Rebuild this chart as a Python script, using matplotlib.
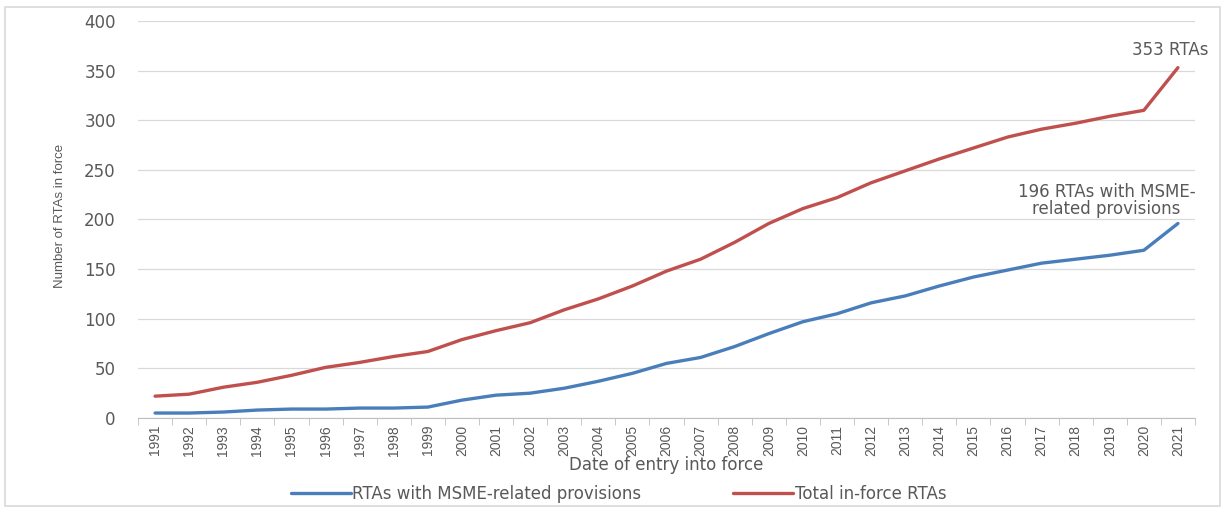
import matplotlib.pyplot as plt
from matplotlib.patches import Rectangle

years = [str(y) for y in range(1991, 2022)]
msme_rtas = [5, 5, 6, 8, 9, 9, 10, 10, 11, 18, 23, 25, 30, 37, 45, 55, 61, 72, 85, 97,
             105, 116, 123, 133, 142, 149, 156, 160, 164, 169, 196]
total_rtas = [22, 24, 31, 36, 43, 51, 56, 62, 67, 79, 88, 96, 109, 120, 133, 148, 160, 177, 196, 211,
              222, 237, 249, 261, 272, 283, 291, 297, 304, 310, 353]
y_ticks = [0, 50, 100, 150, 200, 250, 300, 350, 400]

grey = '#595959'
narrow = ['Liberation Sans', 'DejaVu Sans']
wide = ['DejaVu Sans']

fig = plt.figure(figsize=(12.25, 5.12), dpi=100)
fig.patches.append(Rectangle((0.004, 0.012), 0.992, 0.975, transform=fig.transFigure,
                             fill=False, edgecolor='#d9d9d9', linewidth=1.2))
ax = fig.add_axes([0.1127, 0.1836, 0.8628, 0.7754])

x = list(range(len(years)))
ax.plot(x, msme_rtas, color='#4a7ebb', linewidth=2.4, label='RTAs with MSME-related provisions',
        solid_capstyle='round')
ax.plot(x, total_rtas, color='#c0504d', linewidth=2.4, label='Total in-force RTAs',
        solid_capstyle='round')

ax.set_xlim(-0.5, len(years) - 0.5)
ax.set_ylim(0, 400)
ax.set_yticks(y_ticks)
ax.set_yticklabels([str(v) for v in y_ticks], family=wide, fontsize=12, color=grey)
ax.set_xticks(x)
ax.set_xticklabels(years, rotation=90, family=narrow, fontsize=10, color=grey)
ax.set_xticks([i - 0.5 for i in range(len(years) + 1)], minor=True)
ax.tick_params(axis='x', which='major', length=0, pad=5)
ax.tick_params(axis='x', which='minor', length=5, color='#bfbfbf')
ax.tick_params(axis='y', length=0, pad=16)

ax.grid(axis='y', color='#d9d9d9', linewidth=0.9)
ax.set_axisbelow(True)
for s in ['top', 'right', 'left']:
    ax.spines[s].set_visible(False)
ax.spines['bottom'].set_color('#bfbfbf')

ax.set_ylabel('Number of RTAs in force', family=narrow, fontsize=9.5, color=grey, labelpad=14)
ax.yaxis.set_label_coords(-0.068, 0.51)
ax.set_xlabel('Date of entry into force', family=wide, fontsize=12, color=grey, labelpad=0)

ax.text(29.76, 371, '353 RTAs', ha='center', va='center', family=wide, fontsize=12, color=grey)
ax.text(27.9, 219, '196 RTAs with MSME-\nrelated provisions', ha='center', va='center',
        family=wide, fontsize=12, color=grey, linespacing=0.95)

fig.legend(loc='center', bbox_to_anchor=(0.505, 0.035), ncol=2, frameon=False,
           prop={'family': wide, 'size': 12}, labelcolor=grey, handlelength=3.6,
           columnspacing=5.5, handletextpad=0.1)

fig.savefig('out.png', dpi=100)
